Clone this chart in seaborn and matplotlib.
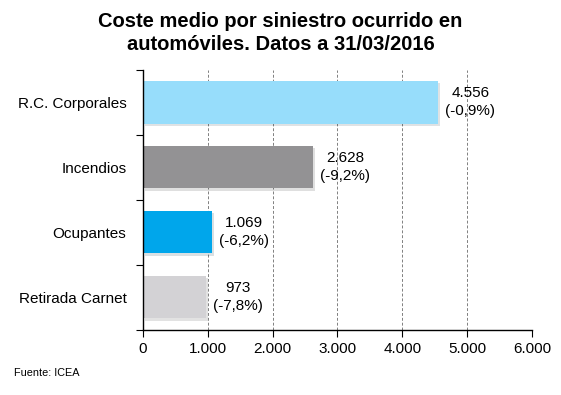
import pandas as pd
import matplotlib
matplotlib.use('Agg')
import matplotlib.pyplot as plt
import matplotlib.patheffects as pe
import seaborn as sns

# data
categorias = ['R.C. Corporales', 'Incendios', 'Ocupantes', 'Retirada Carnet']
coste = [4556, 2628, 1069, 973]
variacion = ['-0,9%', '-9,2%', '-6,2%', '-7,8%']
colores = ['#97DDFB', '#939294', '#00A6EB', '#D3D2D5']
ticks_x = [0, 1000, 2000, 3000, 4000, 5000, 6000]

df = pd.DataFrame({'categoria': categorias, 'coste': coste})

sns.set_style('white')
plt.rcParams['font.family'] = ['Liberation Sans', 'DejaVu Sans']
plt.rcParams['text.color'] = 'black'
plt.rcParams['xtick.color'] = 'black'
plt.rcParams['ytick.color'] = 'black'

fig = plt.figure(figsize=(5.61, 3.95), dpi=100)
ax = fig.add_axes([0.255, 0.165, 0.693, 0.658])

sns.barplot(data=df, x='coste', y='categoria', hue='categoria',
            palette=colores, legend=False, width=0.65, ax=ax,
            edgecolor='none', saturation=1)

# soft shadow under the bars
for bar in ax.patches:
    bar.set_path_effects([pe.SimplePatchShadow(offset=(1.5, -1.5), alpha=0.15), pe.Normal()])

# value labels
for i, (v, p) in enumerate(zip(coste, variacion)):
    txt = f'{v:,}'.replace(',', '.') + f'\n({p})'
    ax.annotate(txt, xy=(v, i), xytext=(23, 0), textcoords='offset points',
                ha='center', va='center', fontsize=11, linespacing=1.35)

ax.set_xlim(0, 6000)
ax.set_ylim(3.5, -0.5)
ax.set_xticks(ticks_x)
ax.set_xticklabels([f'{t:,}'.replace(',', '.') for t in ticks_x], fontsize=11)
ax.set_yticks([-0.5, 0.5, 1.5, 2.5, 3.5], minor=False)
ax.set_yticklabels([])
ax.set_yticks(range(4), minor=True)
ax.set_yticklabels(categorias, minor=True, fontsize=11)
ax.tick_params(axis='y', which='minor', length=0, pad=12)
ax.tick_params(axis='y', which='major', length=5, direction='out', left=True)
ax.tick_params(axis='x', length=5, direction='out', bottom=True, pad=4)
ax.set_xlabel('')
ax.set_ylabel('')

ax.grid(False)
for t in ticks_x[1:]:
    ax.axvline(t, color='#808080', linestyle=(0, (3, 2)), linewidth=0.7, zorder=0)

for s in ['top', 'right']:
    ax.spines[s].set_visible(False)
for s in ['left', 'bottom']:
    ax.spines[s].set_color('black')
    ax.spines[s].set_linewidth(1)

fig.text(0.5, 0.97, 'Coste medio por siniestro ocurrido en\nautomóviles. Datos a 31/03/2016',
         ha='center', va='top', fontsize=14.5, fontweight='bold', linespacing=1.3)
fig.text(0.025, 0.055, 'Fuente: ICEA', fontsize=7.8, ha='left', va='center')

plt.savefig('out.png', dpi=100)
plt.close()
